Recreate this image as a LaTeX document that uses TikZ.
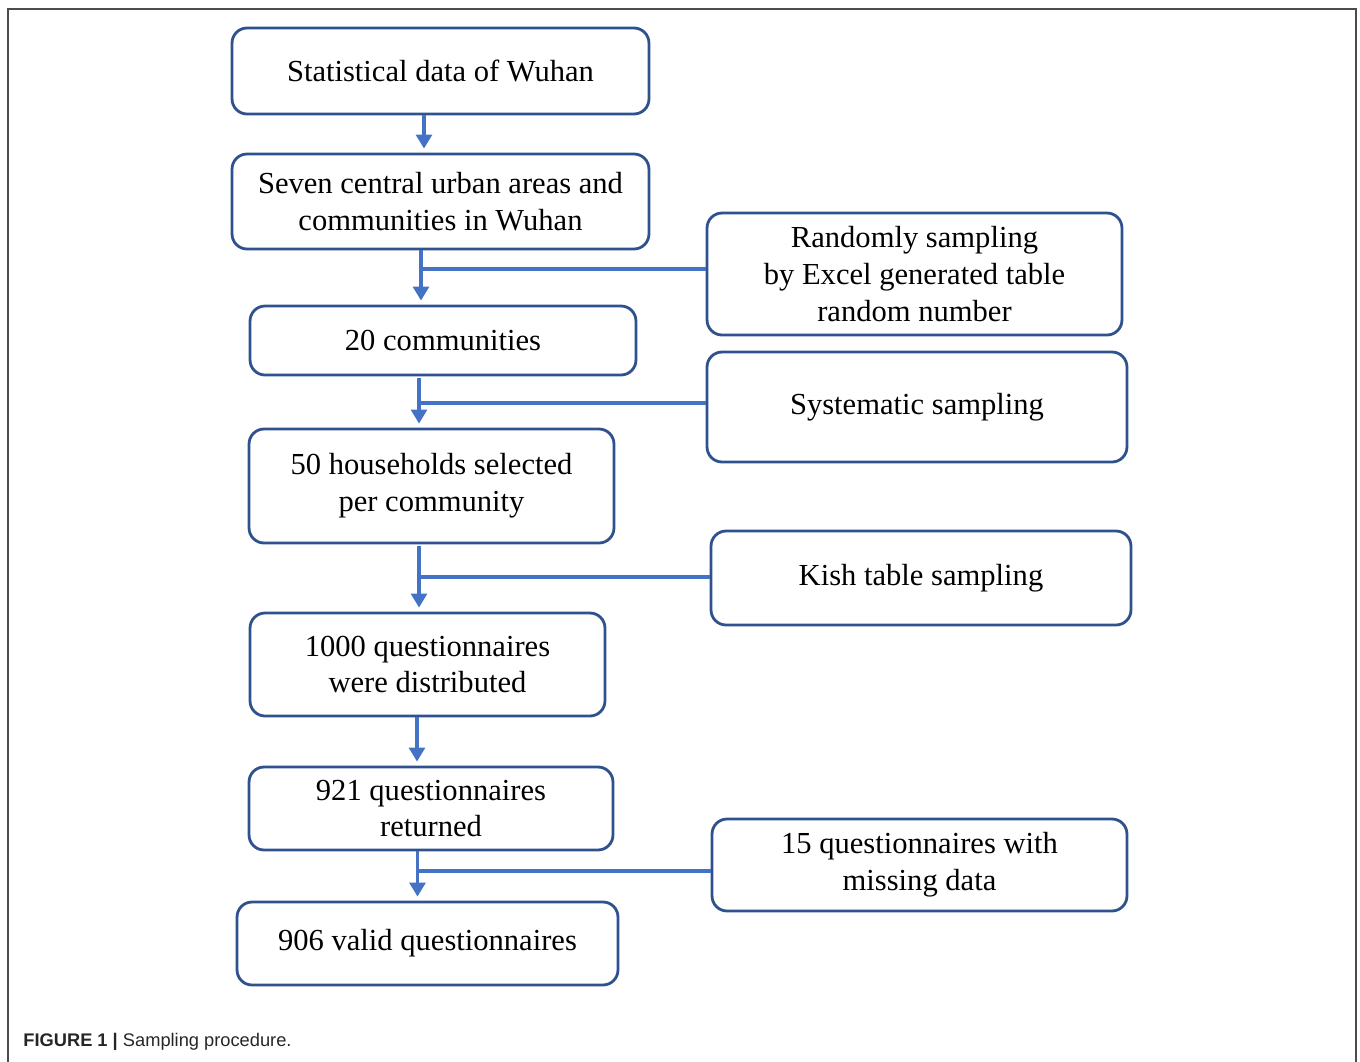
\documentclass[tikz,border=0pt]{standalone}
\usepackage{fontspec}
\setmainfont{Liberation Serif}
\setsansfont{Liberation Sans}
\usepackage{tikz}
\usetikzlibrary{positioning, arrows.meta}
\definecolor{boxblue}{HTML}{2F528F}
\definecolor{arrowblue}{HTML}{4472C4}

\begin{document}
\begin{tikzpicture}[x=0.02cm, y=-0.02cm,
  every node/.style={draw=boxblue, line width=1.6pt, rectangle, rounded corners=0.3cm, align=center, inner sep=0pt, font=\fontsize{17.4}{21}\selectfont},
  flow/.style={draw=arrowblue, line width=2pt, -{Triangle[length=8pt, width=9pt]}, shorten >= 0.8mm},
  branch/.style={draw=arrowblue, line width=1.8pt}]
\useasboundingbox (0,0) rectangle (1360,1062);
\draw[gray!60!black, line width=1.1pt] (8,1062) -- (8,9) -- (1356,9) -- (1356,1062);
% main column
\node[minimum width=8.34cm, minimum height=1.72cm] (stats) at (440.5,71) {Statistical data of Wuhan};
\node[minimum width=8.34cm, minimum height=1.9cm] (areas) at (440.5,201.5) {Seven central urban areas and\\communities in Wuhan};
\node[minimum width=7.72cm, minimum height=1.38cm] (comm) at (443,340.5) {20 communities};
\node[minimum width=7.3cm, minimum height=2.28cm] (house) at (431.5,486) {50 households selected\\per community};
\node[minimum width=7.1cm, minimum height=2.06cm] (dist) at (427.5,664.5) {1000 questionnaires\\were distributed};
\node[minimum width=7.28cm, minimum height=1.66cm] (ret) at (431,808.5) {921 questionnaires\\returned};
\node[minimum width=7.62cm, minimum height=1.66cm] (valid) at (427.5,943.5) {906 valid questionnaires};
% sampling steps
\node[minimum width=8.3cm, minimum height=2.44cm] (rand) at (914.5,274) {Randomly sampling\\by Excel generated table\\random number};
\node[minimum width=8.4cm, minimum height=2.2cm] (syst) at (917,407) {Systematic sampling};
\node[minimum width=8.4cm, minimum height=1.88cm] (kish) at (921,578) {Kish table sampling};
\node[minimum width=8.3cm, minimum height=1.84cm] (miss) at (919.5,865) {15 questionnaires with\\missing data};
\node[draw=none, anchor=west, font=\sffamily\fontsize{10.4}{12}\selectfont, text=black!85] (caption) at (22,1042) {\textbf{FIGURE 1 |} Sampling procedure.};
% arrows
\draw[flow] (424,0 |- stats.south) -- (424,0 |- areas.north);
\draw[flow] (421,0 |- areas.south) -- (421,0 |- comm.north);
\draw[flow] (419,378) -- (419,0 |- house.north);
\draw[flow] (419,546) -- (419,0 |- dist.north);
\draw[flow] (417,0 |- dist.south) -- (417,0 |- ret.north);
\draw[flow] (417.5,0 |- ret.south) -- (417.5,0 |- valid.north);
\draw[branch] (rand.west |- 0,269) -- (421,269);
\draw[branch] (syst.west |- 0,403) -- (419,403);
\draw[branch] (kish.west |- 0,577) -- (419,577);
\draw[branch] (miss.west |- 0,871) -- (417.5,871);
\end{tikzpicture}
\end{document}
